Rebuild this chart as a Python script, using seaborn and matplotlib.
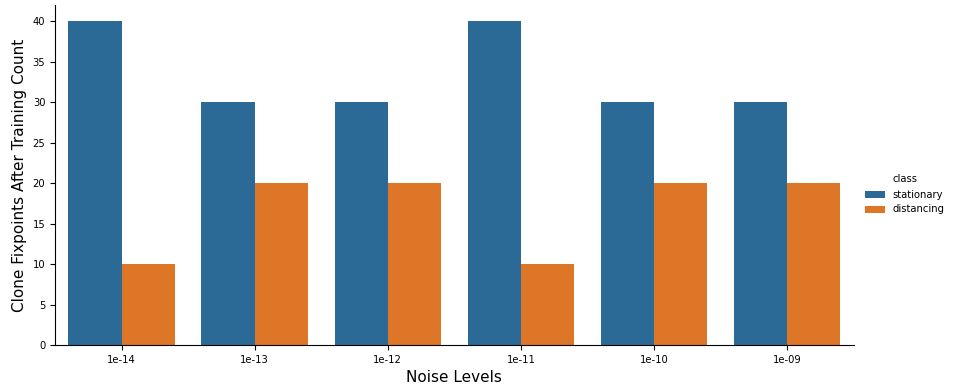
import pandas as pd
import seaborn as sns
import matplotlib.pyplot as plt

noise_levels = ["1e-14", "1e-13", "1e-12", "1e-11", "1e-10", "1e-09"]
stationary = [40, 30, 30, 40, 30, 30]
distancing = [10, 20, 20, 10, 20, 20]
colors = ["#2b6a97", "#dd7626"]

df = pd.DataFrame({
    "noise": noise_levels * 2,
    "count": stationary + distancing,
    "class": ["stationary"] * 6 + ["distancing"] * 6,
})

plt.rcParams["font.size"] = 7.2
g = sns.catplot(
    data=df, x="noise", y="count", hue="class",
    kind="bar", order=noise_levels, height=3.89, aspect=2.0,
    palette=colors, saturation=1,
)
g.figure.set_size_inches(9.57, 3.89)
g.figure.subplots_adjust(left=0.0575, right=0.892, bottom=0.113, top=0.987)
ax = g.ax
ax.set_xlabel("Noise Levels", fontsize=11)
ax.set_ylabel("Clone Fixpoints After Training Count", fontsize=11)
sns.move_legend(g, "center left", bbox_to_anchor=(0.894, 0.5), frameon=False)
g.figure.savefig("out.png", dpi=100)
